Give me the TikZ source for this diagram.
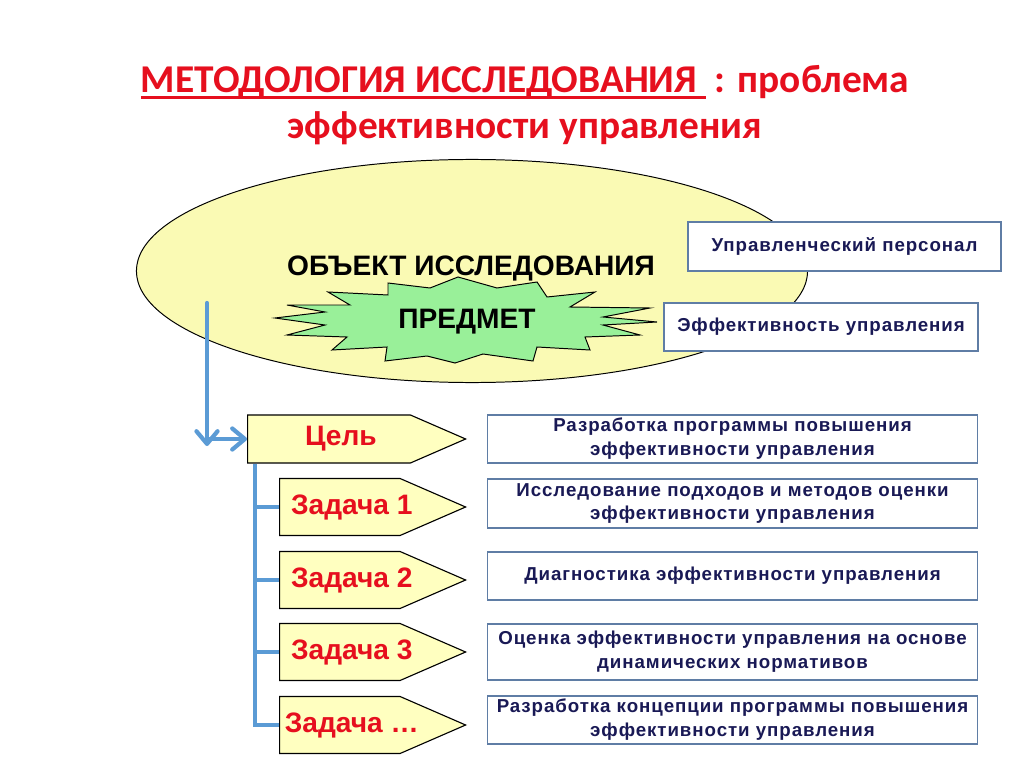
\documentclass[tikz,border=0pt]{standalone}
\usepackage{fontspec}
\setmainfont{Liberation Sans}
\newfontfamily\titlefont{Carlito}
\newfontfamily\boxfont[LetterSpace=5]{Liberation Sans}
\usetikzlibrary{shapes.geometric,shapes.symbols,arrows.meta}

\definecolor{ovalfill}{RGB}{250,250,180}
\definecolor{burstgreen}{RGB}{153,240,153}
\definecolor{tagfill}{RGB}{255,255,192}
\definecolor{tagred}{RGB}{230,15,30}
\definecolor{lineblue}{RGB}{91,155,213}
\definecolor{boxblue}{RGB}{95,125,165}
\definecolor{navy}{RGB}{25,25,85}

\newcommand\titleul[1]{\setbox0\hbox{#1}\rlap{\rule[-4pt]{\wd0}{1.8pt}}\box0}
\newcommand\tagtext[1]{\makebox[0pt]{\hspace*{17pt}#1}}

\tikzset{
  titletext/.style={text=tagred, font=\titlefont\bfseries\fontsize{28}{34}\selectfont, inner sep=0pt},
  bigtext/.style={font=\bfseries\fontsize{20}{24}\selectfont, inner sep=0pt},
  oval/.style={ellipse, draw=black, fill=ovalfill, line width=0.7pt, minimum width=16.775cm, minimum height=5.575cm, inner sep=0pt},
  burst/.style={draw=black, fill=burstgreen, line width=0.7pt},
  tag/.style={shape=signal, signal to=east, signal pointer angle=47, draw=black, fill=tagfill, line width=0.8pt, anchor=west, text=tagred, font=\bfseries\fontsize{20}{24}\selectfont, inner sep=0pt},
  infobox/.style={draw=boxblue, fill=white, line width=1.1pt, text=navy, font=\boxfont\bfseries\fontsize{13.3}{17}\selectfont, align=center, minimum width=12.25cm, minimum height=1.2cm, inner sep=2pt},
  tree/.style={draw=lineblue, line width=3.5pt},
  flow/.style={draw=lineblue, line width=3pt, line cap=round, -{Straight Barb[length=9pt,width=15pt,round]}}
}

\begin{document}
\begin{tikzpicture}[x=0.025cm, y=-0.025cm]
\useasboundingbox (0,0) rectangle (1024,767);

\node [titletext, anchor=base] (title) at (525,93) {\titleul{МЕТОДОЛОГИЯ ИССЛЕДОВАНИЯ\ }\ : проблема};
\node [titletext, anchor=base] (title2) at (525,139) {эффективности управления};

\node [oval] (object) at (472,271) {};

\draw [burst] (388,283) -- (430,288) -- (458,277) -- (497,288) -- (537,282) -- (547,297)
  -- (595,292) -- (570,307) -- (650,308) -- (603,317) -- (657,322) -- (603,325)
  -- (640,335) -- (585,337) -- (590,350) -- (537,347) -- (533,361) -- (483,354)
  -- (455,363) -- (427,356) -- (385,361) -- (387,347) -- (332,350) -- (347,337)
  -- (287,335) -- (325,325) -- (275,318) -- (325,312) -- (287,305) -- (350,305)
  -- (328,292) -- (388,295) -- cycle;
\node [bigtext] (subject) at (467,322) {ПРЕДМЕТ};
\node [bigtext] (objlabel) at (471,268) {ОБЪЕКТ ИССЛЕДОВАНИЯ};

\node [infobox, minimum width=7.825cm, minimum height=1.225cm] (staff) at (844.5,246.5) {Управленческий персонал};
\node [infobox, minimum width=7.85cm] (efficiency) at (821,327) {Эффективность управления};

\node [tag, minimum width=5.45cm, minimum height=1.2cm] (goal) at (247,439) {\tagtext{Цель}};
\foreach \n/\y/\lbl in {1/507/Задача 1, 2/580/Задача 2, 3/652/Задача 3, 4/725/Задача …}
  \node [tag, minimum width=4.65cm, minimum height=1.425cm] (t\n) at (279,\y) {\tagtext{\lbl}};

\foreach \n/\y/\h/\lbl in {1/439/1.2/{Разработка программы повышения\\эффективности управления},
    2/503.5/1.225/{Исследование подходов и методов оценки\\эффективности управления},
    3/576/1.2/{Диагностика эффективности управления},
    4/652/1.4/{Оценка эффективности управления на основе\\динамических нормативов},
    5/720/1.2/{Разработка концепции программы повышения\\эффективности управления}}
  \node [infobox, minimum height=\h cm] (r\n) at (732.5,\y) {\lbl};

\coordinate (src) at (207,303);
\coordinate (knee) at (207,446);
\draw [flow] (src) -- (knee);
\draw [flow] (knee |- goal.west) -- (goal.west);

\draw [tree] ([xshift=0.2cm]goal.south west) |- (t4.west);
\foreach \t in {t1,t2,t3}
  \draw [tree] ([xshift=0.2cm]goal.south west |- \t.west) -- (\t.west);

\end{tikzpicture}
\end{document}
